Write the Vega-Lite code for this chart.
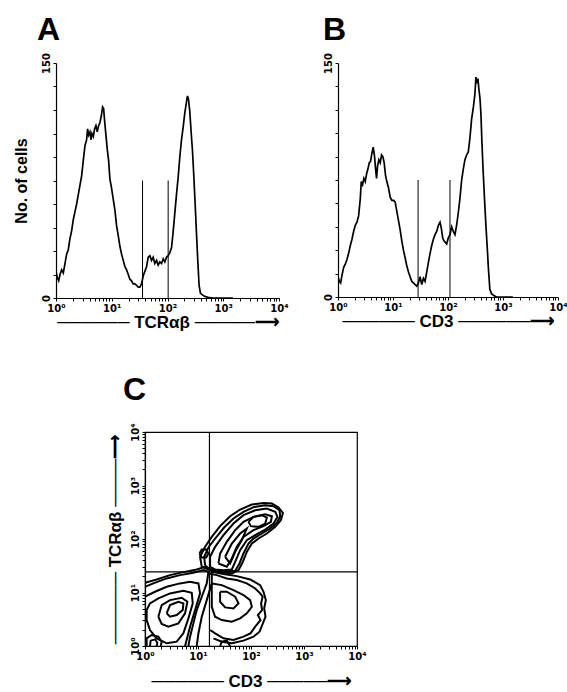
{
  "$schema": "https://vega.github.io/schema/vega-lite/v6.json",
  "background": "white",
  "padding": {"left": 13, "top": 13, "right": 0, "bottom": 0},
  "bounds": "flush",
  "spacing": 369,
  "config": {
    "axis": {"grid": false, "domainColor": "black", "tickColor": "black", "labelColor": "black", "titleColor": "black", "labelFont": "DejaVu Sans", "labelFontWeight": "bold", "labelFontSize": 10, "titleFont": "Liberation Sans", "titleFontWeight": "bold", "titleFontSize": 17, "tickSize": 3, "tickCount": 200, "domainWidth": 1.2, "labelOverlap": false, "labelFlush": false},
    "title": {"font": "Liberation Sans", "fontWeight": "bold", "fontSize": 32, "color": "black", "anchor": "start", "frame": "group", "baseline": "alphabetic"}
  },
  "datasets": {
    "hA": [
      {"x":0.000,"n":17},{"x":0.024,"n":13},{"x":0.048,"n":11},{"x":0.072,"n":15},{"x":0.101,"n":18},{"x":0.131,"n":16},{"x":0.161,"n":22},{"x":0.191,"n":28},{"x":0.221,"n":31},{"x":0.251,"n":38},{"x":0.281,"n":43},{"x":0.310,"n":50},{"x":0.340,"n":55},{"x":0.370,"n":60},{"x":0.400,"n":66},{"x":0.430,"n":72},{"x":0.460,"n":78},{"x":0.490,"n":88},{"x":0.519,"n":97},{"x":0.549,"n":101},{"x":0.567,"n":108},{"x":0.585,"n":104},{"x":0.609,"n":106},{"x":0.627,"n":101},{"x":0.645,"n":105},{"x":0.669,"n":103},{"x":0.693,"n":108},{"x":0.716,"n":110},{"x":0.740,"n":106},{"x":0.764,"n":110},{"x":0.788,"n":112},{"x":0.812,"n":116},{"x":0.836,"n":122},{"x":0.854,"n":121},{"x":0.872,"n":113},{"x":0.896,"n":104},{"x":0.919,"n":95},{"x":0.943,"n":88},{"x":0.967,"n":76},{"x":0.997,"n":70},{"x":1.027,"n":63},{"x":1.057,"n":56},{"x":1.087,"n":46},{"x":1.116,"n":40},{"x":1.146,"n":33},{"x":1.176,"n":28},{"x":1.206,"n":24},{"x":1.236,"n":20},{"x":1.266,"n":18},{"x":1.296,"n":15},{"x":1.325,"n":12},{"x":1.355,"n":11},{"x":1.385,"n":9},{"x":1.415,"n":9},{"x":1.445,"n":8},{"x":1.475,"n":7},{"x":1.504,"n":7},{"x":1.534,"n":9},{"x":1.564,"n":14},{"x":1.594,"n":17},{"x":1.624,"n":20},{"x":1.654,"n":26},{"x":1.684,"n":27},{"x":1.713,"n":24},{"x":1.743,"n":26},{"x":1.773,"n":22},{"x":1.803,"n":24},{"x":1.833,"n":21},{"x":1.863,"n":23},{"x":1.893,"n":22},{"x":1.922,"n":25},{"x":1.952,"n":23},{"x":1.982,"n":26},{"x":2.012,"n":27},{"x":2.042,"n":29},{"x":2.072,"n":32},{"x":2.101,"n":42},{"x":2.131,"n":54},{"x":2.161,"n":66},{"x":2.191,"n":77},{"x":2.221,"n":90},{"x":2.251,"n":101},{"x":2.281,"n":109},{"x":2.310,"n":118},{"x":2.340,"n":125},{"x":2.358,"n":129},{"x":2.376,"n":127},{"x":2.400,"n":119},{"x":2.424,"n":106},{"x":2.448,"n":94},{"x":2.472,"n":78},{"x":2.496,"n":60},{"x":2.519,"n":42},{"x":2.543,"n":24},{"x":2.567,"n":8},{"x":2.591,"n":3},{"x":2.627,"n":2},{"x":2.669,"n":1},{"x":2.728,"n":0.5},{"x":2.818,"n":0},{"x":3.176,"n":0}
    ],
    "hB": [
      {"x":0.000,"n":13},{"x":0.024,"n":10},{"x":0.048,"n":9},{"x":0.073,"n":14},{"x":0.103,"n":19},{"x":0.133,"n":21},{"x":0.163,"n":24},{"x":0.193,"n":28},{"x":0.224,"n":33},{"x":0.254,"n":37},{"x":0.284,"n":42},{"x":0.314,"n":46},{"x":0.344,"n":48},{"x":0.375,"n":52},{"x":0.405,"n":63},{"x":0.423,"n":74},{"x":0.447,"n":72},{"x":0.471,"n":76},{"x":0.495,"n":74},{"x":0.520,"n":79},{"x":0.544,"n":82},{"x":0.568,"n":86},{"x":0.592,"n":87},{"x":0.616,"n":92},{"x":0.640,"n":96},{"x":0.665,"n":90},{"x":0.683,"n":82},{"x":0.701,"n":76},{"x":0.719,"n":84},{"x":0.743,"n":88},{"x":0.767,"n":86},{"x":0.792,"n":91},{"x":0.816,"n":90},{"x":0.840,"n":86},{"x":0.864,"n":78},{"x":0.888,"n":74},{"x":0.918,"n":70},{"x":0.949,"n":64},{"x":0.979,"n":62},{"x":1.009,"n":62},{"x":1.039,"n":61},{"x":1.069,"n":55},{"x":1.100,"n":49},{"x":1.130,"n":43},{"x":1.160,"n":36},{"x":1.190,"n":30},{"x":1.221,"n":25},{"x":1.251,"n":20},{"x":1.281,"n":16},{"x":1.311,"n":13},{"x":1.341,"n":10},{"x":1.372,"n":9},{"x":1.402,"n":8},{"x":1.432,"n":7},{"x":1.462,"n":9},{"x":1.492,"n":13},{"x":1.523,"n":8},{"x":1.553,"n":12},{"x":1.583,"n":10},{"x":1.613,"n":16},{"x":1.643,"n":22},{"x":1.674,"n":28},{"x":1.704,"n":33},{"x":1.734,"n":37},{"x":1.764,"n":40},{"x":1.795,"n":42},{"x":1.825,"n":46},{"x":1.855,"n":48},{"x":1.879,"n":44},{"x":1.903,"n":38},{"x":1.927,"n":36},{"x":1.952,"n":35},{"x":1.976,"n":34},{"x":2.006,"n":38},{"x":2.036,"n":40},{"x":2.066,"n":45},{"x":2.097,"n":42},{"x":2.127,"n":40},{"x":2.157,"n":46},{"x":2.187,"n":54},{"x":2.217,"n":63},{"x":2.248,"n":75},{"x":2.278,"n":82},{"x":2.308,"n":88},{"x":2.338,"n":91},{"x":2.369,"n":93},{"x":2.399,"n":102},{"x":2.429,"n":114},{"x":2.459,"n":121},{"x":2.489,"n":130},{"x":2.508,"n":141},{"x":2.526,"n":137},{"x":2.544,"n":140},{"x":2.562,"n":133},{"x":2.580,"n":128},{"x":2.598,"n":118},{"x":2.616,"n":100},{"x":2.640,"n":80},{"x":2.665,"n":62},{"x":2.689,"n":46},{"x":2.713,"n":32},{"x":2.737,"n":17},{"x":2.761,"n":5},{"x":2.792,"n":2},{"x":2.834,"n":1},{"x":2.882,"n":0},{"x":3.18,"n":0}
    ],
    "gA": [{"x":1.552,"n0":0,"n1":75},{"x":2.012,"n0":0,"n1":75}],
    "gB": [{"x":1.456,"n0":0,"n1":75},{"x":2.036,"n0":0,"n1":75}],
    "cont": [
      {"c":"ur1","i":0,"x":1.071,"y":1.481},{"c":"ur1","i":1,"x":1.039,"y":1.667},{"c":"ur1","i":2,"x":1.134,"y":1.854},{"c":"ur1","i":3,"x":1.260,"y":2.040},{"c":"ur1","i":4,"x":1.417,"y":2.240},{"c":"ur1","i":5,"x":1.606,"y":2.426},{"c":"ur1","i":6,"x":1.795,"y":2.551},{"c":"ur1","i":7,"x":2.016,"y":2.644},{"c":"ur1","i":8,"x":2.236,"y":2.675},{"c":"ur1","i":9,"x":2.394,"y":2.663},{"c":"ur1","i":10,"x":2.520,"y":2.588},{"c":"ur1","i":11,"x":2.602,"y":2.488},{"c":"ur1","i":12,"x":2.564,"y":2.351},{"c":"ur1","i":13,"x":2.457,"y":2.227},{"c":"ur1","i":14,"x":2.299,"y":2.103},{"c":"ur1","i":15,"x":2.142,"y":2.009},{"c":"ur1","i":16,"x":2.016,"y":1.916},{"c":"ur1","i":17,"x":1.921,"y":1.760},{"c":"ur1","i":18,"x":1.846,"y":1.574},{"c":"ur1","i":19,"x":1.764,"y":1.418},{"c":"ur1","i":20,"x":1.638,"y":1.356},{"c":"ur1","i":21,"x":1.417,"y":1.381},{"c":"ur1","i":22,"x":1.228,"y":1.418},{"c":"ur1","i":23,"x":1.071,"y":1.481},
      {"c":"ur1b","i":0,"x":1.134,"y":1.512},{"c":"ur1b","i":1,"x":1.115,"y":1.667},{"c":"ur1b","i":2,"x":1.197,"y":1.841},{"c":"ur1b","i":3,"x":1.323,"y":2.009},{"c":"ur1b","i":4,"x":1.493,"y":2.215},{"c":"ur1b","i":5,"x":1.669,"y":2.383},{"c":"ur1b","i":6,"x":1.858,"y":2.507},{"c":"ur1b","i":7,"x":2.060,"y":2.600},{"c":"ur1b","i":8,"x":2.268,"y":2.631},{"c":"ur1b","i":9,"x":2.425,"y":2.613},{"c":"ur1b","i":10,"x":2.539,"y":2.538},{"c":"ur1b","i":11,"x":2.551,"y":2.414},{"c":"ur1b","i":12,"x":2.488,"y":2.302},{"c":"ur1b","i":13,"x":2.362,"y":2.196},{"c":"ur1b","i":14,"x":2.205,"y":2.103},{"c":"ur1b","i":15,"x":2.047,"y":2.009},{"c":"ur1b","i":16,"x":1.953,"y":1.916},{"c":"ur1b","i":17,"x":1.858,"y":1.729},{"c":"ur1b","i":18,"x":1.783,"y":1.543},{"c":"ur1b","i":19,"x":1.701,"y":1.406},{"c":"ur1b","i":20,"x":1.543,"y":1.387},{"c":"ur1b","i":21,"x":1.354,"y":1.406},{"c":"ur1b","i":22,"x":1.197,"y":1.450},{"c":"ur1b","i":23,"x":1.134,"y":1.512},
      {"c":"ur2","i":0,"x":1.228,"y":1.481},{"c":"ur2","i":1,"x":1.228,"y":1.667},{"c":"ur2","i":2,"x":1.323,"y":1.854},{"c":"ur2","i":3,"x":1.480,"y":2.072},{"c":"ur2","i":4,"x":1.669,"y":2.289},{"c":"ur2","i":5,"x":1.858,"y":2.445},{"c":"ur2","i":6,"x":2.079,"y":2.538},{"c":"ur2","i":7,"x":2.299,"y":2.569},{"c":"ur2","i":8,"x":2.457,"y":2.507},{"c":"ur2","i":9,"x":2.501,"y":2.414},{"c":"ur2","i":10,"x":2.425,"y":2.289},{"c":"ur2","i":11,"x":2.268,"y":2.177},{"c":"ur2","i":12,"x":2.079,"y":2.072},{"c":"ur2","i":13,"x":1.921,"y":1.978},{"c":"ur2","i":14,"x":1.795,"y":1.792},{"c":"ur2","i":15,"x":1.701,"y":1.574},{"c":"ur2","i":16,"x":1.638,"y":1.431},{"c":"ur2","i":17,"x":1.480,"y":1.418},{"c":"ur2","i":18,"x":1.323,"y":1.431},{"c":"ur2","i":19,"x":1.228,"y":1.481},
      {"c":"ur3","i":0,"x":1.386,"y":1.543},{"c":"ur3","i":1,"x":1.417,"y":1.729},{"c":"ur3","i":2,"x":1.543,"y":1.947},{"c":"ur3","i":3,"x":1.701,"y":2.165},{"c":"ur3","i":4,"x":1.858,"y":2.320},{"c":"ur3","i":5,"x":2.047,"y":2.414},{"c":"ur3","i":6,"x":2.268,"y":2.463},{"c":"ur3","i":7,"x":2.394,"y":2.426},{"c":"ur3","i":8,"x":2.375,"y":2.320},{"c":"ur3","i":9,"x":2.236,"y":2.240},{"c":"ur3","i":10,"x":2.047,"y":2.165},{"c":"ur3","i":11,"x":1.858,"y":2.040},{"c":"ur3","i":12,"x":1.732,"y":1.854},{"c":"ur3","i":13,"x":1.638,"y":1.636},{"c":"ur3","i":14,"x":1.543,"y":1.481},{"c":"ur3","i":15,"x":1.386,"y":1.543},
      {"c":"ur4","i":0,"x":1.953,"y":2.320},{"c":"ur4","i":1,"x":2.047,"y":2.414},{"c":"ur4","i":2,"x":2.205,"y":2.445},{"c":"ur4","i":3,"x":2.299,"y":2.401},{"c":"ur4","i":4,"x":2.268,"y":2.289},{"c":"ur4","i":5,"x":2.142,"y":2.227},{"c":"ur4","i":6,"x":1.997,"y":2.240},{"c":"ur4","i":7,"x":1.953,"y":2.320},
      {"c":"ur5","i":0,"x":1.512,"y":1.667},{"c":"ur5","i":1,"x":1.638,"y":1.916},{"c":"ur5","i":2,"x":1.795,"y":2.103},{"c":"ur5","i":3,"x":1.921,"y":2.196},{"c":"ur5","i":4,"x":1.827,"y":1.978},{"c":"ur5","i":5,"x":1.701,"y":1.760},{"c":"ur5","i":6,"x":1.606,"y":1.543},{"c":"ur5","i":7,"x":1.512,"y":1.667},
      {"c":"dot","i":0,"x":1.027,"y":1.729},{"c":"dot","i":1,"x":1.071,"y":1.804},{"c":"dot","i":2,"x":1.153,"y":1.804},{"c":"dot","i":3,"x":1.197,"y":1.729},{"c":"dot","i":4,"x":1.153,"y":1.655},{"c":"dot","i":5,"x":1.071,"y":1.655},{"c":"dot","i":6,"x":1.027,"y":1.729},
      {"c":"ll0","i":0,"x":0,"y":1.182},{"c":"ll0","i":1,"x":0.220,"y":1.244},{"c":"ll0","i":2,"x":0.472,"y":1.325},{"c":"ll0","i":3,"x":0.724,"y":1.381},{"c":"ll0","i":4,"x":0.976,"y":1.431},{"c":"ll0","i":5,"x":1.134,"y":1.481},{"c":"ll0","i":6,"x":1.260,"y":1.418},{"c":"ll0","i":7,"x":1.260,"y":1.170},{"c":"ll0","i":8,"x":1.165,"y":0.858},{"c":"ll0","i":9,"x":1.071,"y":0.547},{"c":"ll0","i":10,"x":1.008,"y":0.236},{"c":"ll0","i":11,"x":0.976,"y":0},
      {"c":"ll1","i":0,"x":0,"y":1.107},{"c":"ll1","i":1,"x":0.157,"y":1.170},{"c":"ll1","i":2,"x":0.409,"y":1.263},{"c":"ll1","i":3,"x":0.661,"y":1.325},{"c":"ll1","i":4,"x":0.913,"y":1.369},{"c":"ll1","i":5,"x":1.102,"y":1.418},{"c":"ll1","i":6,"x":1.197,"y":1.387},{"c":"ll1","i":7,"x":1.165,"y":1.170},{"c":"ll1","i":8,"x":1.071,"y":0.921},{"c":"ll1","i":9,"x":0.976,"y":0.672},{"c":"ll1","i":10,"x":0.913,"y":0.423},{"c":"ll1","i":11,"x":0.850,"y":0.174},{"c":"ll1","i":12,"x":0.819,"y":0},
      {"c":"ll2","i":0,"x":0,"y":0.921},{"c":"ll2","i":1,"x":0.189,"y":1.014},{"c":"ll2","i":2,"x":0.409,"y":1.107},{"c":"ll2","i":3,"x":0.661,"y":1.170},{"c":"ll2","i":4,"x":0.850,"y":1.201},{"c":"ll2","i":5,"x":1.008,"y":1.170},{"c":"ll2","i":6,"x":1.039,"y":0.983},{"c":"ll2","i":7,"x":0.945,"y":0.672},{"c":"ll2","i":8,"x":0.850,"y":0.361},{"c":"ll2","i":9,"x":0.756,"y":0},
      {"c":"ll3","i":0,"x":0.031,"y":0.672},{"c":"ll3","i":1,"x":0.094,"y":0.796},{"c":"ll3","i":2,"x":0.252,"y":0.890},{"c":"ll3","i":3,"x":0.472,"y":0.983},{"c":"ll3","i":4,"x":0.724,"y":1.033},{"c":"ll3","i":5,"x":0.882,"y":0.995},{"c":"ll3","i":6,"x":0.901,"y":0.796},{"c":"ll3","i":7,"x":0.819,"y":0.516},{"c":"ll3","i":8,"x":0.724,"y":0.236},{"c":"ll3","i":9,"x":0.598,"y":0.081},{"c":"ll3","i":10,"x":0.409,"y":0.050},{"c":"ll3","i":11,"x":0.220,"y":0.143},{"c":"ll3","i":12,"x":0.094,"y":0.299},{"c":"ll3","i":13,"x":0.031,"y":0.485},{"c":"ll3","i":14,"x":0.031,"y":0.672},
      {"c":"ll4","i":0,"x":0.252,"y":0.547},{"c":"ll4","i":1,"x":0.315,"y":0.765},{"c":"ll4","i":2,"x":0.472,"y":0.858},{"c":"ll4","i":3,"x":0.693,"y":0.902},{"c":"ll4","i":4,"x":0.800,"y":0.827},{"c":"ll4","i":5,"x":0.756,"y":0.610},{"c":"ll4","i":6,"x":0.630,"y":0.423},{"c":"ll4","i":7,"x":0.441,"y":0.361},{"c":"ll4","i":8,"x":0.315,"y":0.411},{"c":"ll4","i":9,"x":0.252,"y":0.547},
      {"c":"ll5","i":0,"x":0.409,"y":0.610},{"c":"ll5","i":1,"x":0.472,"y":0.765},{"c":"ll5","i":2,"x":0.630,"y":0.827},{"c":"ll5","i":3,"x":0.724,"y":0.796},{"c":"ll5","i":4,"x":0.712,"y":0.672},{"c":"ll5","i":5,"x":0.598,"y":0.579},{"c":"ll5","i":6,"x":0.472,"y":0.547},{"c":"ll5","i":7,"x":0.409,"y":0.610},
      {"c":"lm0","i":0,"x":1.260,"y":1.387},{"c":"lm0","i":1,"x":1.480,"y":1.344},{"c":"lm0","i":2,"x":1.732,"y":1.306},{"c":"lm0","i":3,"x":1.984,"y":1.244},{"c":"lm0","i":4,"x":2.173,"y":1.138},{"c":"lm0","i":5,"x":2.236,"y":1.014},{"c":"lm0","i":6,"x":2.280,"y":0.858},{"c":"lm0","i":7,"x":2.249,"y":0.703},{"c":"lm0","i":8,"x":2.274,"y":0.547},{"c":"lm0","i":9,"x":2.224,"y":0.423},{"c":"lm0","i":10,"x":2.161,"y":0.267},{"c":"lm0","i":11,"x":2.047,"y":0.174},{"c":"lm0","i":12,"x":1.858,"y":0.100},{"c":"lm0","i":13,"x":1.638,"y":0.050},{"c":"lm0","i":14,"x":1.449,"y":0.081},{"c":"lm0","i":15,"x":1.291,"y":0.143},
      {"c":"lm1","i":0,"x":1.197,"y":1.356},{"c":"lm1","i":1,"x":1.354,"y":1.325},{"c":"lm1","i":2,"x":1.543,"y":1.263},{"c":"lm1","i":3,"x":1.732,"y":1.232},{"c":"lm1","i":4,"x":1.921,"y":1.170},{"c":"lm1","i":5,"x":2.079,"y":1.076},{"c":"lm1","i":6,"x":2.173,"y":0.983},{"c":"lm1","i":7,"x":2.220,"y":0.921},{"c":"lm1","i":8,"x":2.190,"y":0.796},{"c":"lm1","i":9,"x":2.210,"y":0.672},{"c":"lm1","i":10,"x":2.130,"y":0.579},{"c":"lm1","i":11,"x":2.180,"y":0.485},{"c":"lm1","i":12,"x":2.080,"y":0.361},{"c":"lm1","i":13,"x":1.990,"y":0.236},{"c":"lm1","i":14,"x":1.858,"y":0.174},{"c":"lm1","i":15,"x":1.669,"y":0.112},{"c":"lm1","i":16,"x":1.480,"y":0.143},{"c":"lm1","i":17,"x":1.323,"y":0.236},{"c":"lm1","i":18,"x":1.228,"y":0.299},
      {"c":"lm2","i":0,"x":1.260,"y":1.170},{"c":"lm2","i":1,"x":1.449,"y":1.138},{"c":"lm2","i":2,"x":1.669,"y":1.045},{"c":"lm2","i":3,"x":1.858,"y":0.952},{"c":"lm2","i":4,"x":1.984,"y":0.858},{"c":"lm2","i":5,"x":2.016,"y":0.734},{"c":"lm2","i":6,"x":1.921,"y":0.610},{"c":"lm2","i":7,"x":1.795,"y":0.516},{"c":"lm2","i":8,"x":1.638,"y":0.454},{"c":"lm2","i":9,"x":1.449,"y":0.485},{"c":"lm2","i":10,"x":1.323,"y":0.547},{"c":"lm2","i":11,"x":1.260,"y":0.734},{"c":"lm2","i":12,"x":1.260,"y":1.170},
      {"c":"lm3","i":0,"x":1.417,"y":1.014},{"c":"lm3","i":1,"x":1.543,"y":1.014},{"c":"lm3","i":2,"x":1.701,"y":0.921},{"c":"lm3","i":3,"x":1.764,"y":0.796},{"c":"lm3","i":4,"x":1.669,"y":0.703},{"c":"lm3","i":5,"x":1.512,"y":0.722},{"c":"lm3","i":6,"x":1.417,"y":0.827},{"c":"lm3","i":7,"x":1.417,"y":1.014},
      {"c":"bl1","i":0,"x":0.031,"y":0},{"c":"bl1","i":1,"x":0.031,"y":0.143},{"c":"bl1","i":2,"x":0.126,"y":0.205},{"c":"bl1","i":3,"x":0.252,"y":0.174},{"c":"bl1","i":4,"x":0.315,"y":0.081},{"c":"bl1","i":5,"x":0.296,"y":0},
      {"c":"bl2","i":0,"x":0.094,"y":0},{"c":"bl2","i":1,"x":0.107,"y":0.100},{"c":"bl2","i":2,"x":0.189,"y":0.124},{"c":"bl2","i":3,"x":0.233,"y":0.062},{"c":"bl2","i":4,"x":0.220,"y":0},
      {"c":"bm1","i":0,"x":1.417,"y":0},{"c":"bm1","i":1,"x":1.449,"y":0.081},{"c":"bm1","i":2,"x":1.543,"y":0.100},{"c":"bm1","i":3,"x":1.606,"y":0}
    ],
    "qx": [{"x":1.216}],
    "qy": [{"y":1.387}]
  },
  "vconcat": [
    {
      "bounds": "flush",
      "spacing": 59,
      "hconcat": [
        {
          "width": 223, "height": 235,
          "view": {"stroke": null},
          "title": {"text": "A", "dx": -19, "offset": 6},
          "layer": [
            {
              "data": {"name": "hA"},
              "mark": {"type": "line", "color": "black", "strokeWidth": 1.7, "clip": true},
              "encoding": {
                "x": {"field": "x", "type": "quantitative", "scale": {"domain": [0, 4], "nice": false},
                  "axis": {"title": "────── TCRαβ ─────⟶", "tickCount": 200, "labelOverlap": false, "values": [0,0.301,0.477,0.602,0.699,0.778,0.845,0.903,0.954,1,1.301,1.477,1.602,1.699,1.778,1.845,1.903,1.954,2,2.301,2.477,2.602,2.699,2.778,2.845,2.903,2.954,3,3.301,3.477,3.602,3.699,3.778,3.845,3.903,3.954,4],
                    "labelExpr": "abs(datum.value - round(datum.value)) < 0.001 ? '10' + ['⁰','¹','²','³','⁴'][round(datum.value)] : ''", "titlePadding": 1}},
                "y": {"field": "n", "type": "quantitative", "scale": {"domain": [0, 150], "nice": false},
                  "axis": {"title": "No. of cells", "tickCount": 200, "labelOverlap": false, "labelFontSize": 10, "values": [0,15,30,45,60,75,90,105,120,135,150], "labelExpr": "datum.value == 0 || datum.value == 150 ? datum.label : ''", "labelAngle": -90, "labelAlign": "center", "labelBaseline": "bottom", "titlePadding": 12, "titleFontSize": 16}}
              }
            },
            {
              "data": {"name": "gA"},
              "mark": {"type": "rule", "color": "black", "strokeWidth": 1},
              "encoding": {"x": {"field": "x", "type": "quantitative"}, "y": {"field": "n0", "type": "quantitative"}, "y2": {"field": "n1"}}
            }
          ]
        },
        {
          "width": 220, "height": 234,
          "view": {"stroke": null},
          "title": {"text": "B", "dx": -15, "offset": 6},
          "layer": [
            {
              "data": {"name": "hB"},
              "mark": {"type": "line", "color": "black", "strokeWidth": 1.7, "clip": true},
              "encoding": {
                "x": {"field": "x", "type": "quantitative", "scale": {"domain": [0, 4], "nice": false},
                  "axis": {"title": "────── CD3 ──────⟶", "tickCount": 200, "labelOverlap": false, "values": [0,0.301,0.477,0.602,0.699,0.778,0.845,0.903,0.954,1,1.301,1.477,1.602,1.699,1.778,1.845,1.903,1.954,2,2.301,2.477,2.602,2.699,2.778,2.845,2.903,2.954,3,3.301,3.477,3.602,3.699,3.778,3.845,3.903,3.954,4],
                    "labelExpr": "abs(datum.value - round(datum.value)) < 0.001 ? '10' + ['⁰','¹','²','³','⁴'][round(datum.value)] : ''", "titlePadding": 1}},
                "y": {"field": "n", "type": "quantitative", "scale": {"domain": [0, 150], "nice": false},
                  "axis": {"title": null, "tickCount": 200, "labelOverlap": false, "labelFontSize": 10, "values": [0,15,30,45,60,75,90,105,120,135,150], "labelExpr": "datum.value == 0 || datum.value == 150 ? datum.label : ''", "labelAngle": -90, "labelAlign": "center", "labelBaseline": "bottom"}}
              }
            },
            {
              "data": {"name": "gB"},
              "mark": {"type": "rule", "color": "black", "strokeWidth": 1},
              "encoding": {"x": {"field": "x", "type": "quantitative"}, "y": {"field": "n0", "type": "quantitative"}, "y2": {"field": "n1"}}
            }
          ]
        }
      ]
    },
    {
      "bounds": "flush",
      "spacing": 0,
      "hconcat": [
        {
          "width": 89, "height": 10,
          "view": {"stroke": null},
          "data": {"values": [{}]},
          "mark": {"type": "point", "opacity": 0},
          "encoding": {}
        },
        {
          "width": 212, "height": 214,
          "view": {"stroke": "black", "strokeWidth": 1.2},
          "title": {"text": "C", "dx": -22, "offset": 16},
          "layer": [
            {
              "data": {"name": "cont"},
              "mark": {"type": "line", "color": "black", "strokeWidth": 2, "clip": true},
              "encoding": {
                "x": {"field": "x", "type": "quantitative", "scale": {"domain": [0, 4], "nice": false},
                  "axis": {"title": "──────  CD3  ─────⟶", "tickCount": 200, "labelOverlap": false, "values": [0,0.301,0.477,0.602,0.699,0.778,0.845,0.903,0.954,1,1.301,1.477,1.602,1.699,1.778,1.845,1.903,1.954,2,2.301,2.477,2.602,2.699,2.778,2.845,2.903,2.954,3,3.301,3.477,3.602,3.699,3.778,3.845,3.903,3.954,4],
                    "labelExpr": "abs(datum.value - round(datum.value)) < 0.001 ? '10' + ['⁰','¹','²','³','⁴'][round(datum.value)] : ''", "titlePadding": 12}},
                "y": {"field": "y", "type": "quantitative", "scale": {"domain": [0, 4], "nice": false},
                  "axis": {"title": "──────  TCRαβ  ────⟶", "tickCount": 200, "labelOverlap": false, "values": [0,0.301,0.477,0.602,0.699,0.778,0.845,0.903,0.954,1,1.301,1.477,1.602,1.699,1.778,1.845,1.903,1.954,2,2.301,2.477,2.602,2.699,2.778,2.845,2.903,2.954,3,3.301,3.477,3.602,3.699,3.778,3.845,3.903,3.954,4],
                    "labelExpr": "abs(datum.value - round(datum.value)) < 0.001 ? '10' + ['⁰','¹','²','³','⁴'][round(datum.value)] : ''", "labelAngle": -90, "labelAlign": "center", "labelBaseline": "bottom", "titlePadding": 6}},
                "detail": {"field": "c"},
                "order": {"field": "i", "type": "quantitative"}
              }
            },
            {
              "data": {"name": "qx"},
              "mark": {"type": "rule", "color": "black", "strokeWidth": 1.2},
              "encoding": {"x": {"field": "x", "type": "quantitative"}}
            },
            {
              "data": {"name": "qy"},
              "mark": {"type": "rule", "color": "black", "strokeWidth": 1.2},
              "encoding": {"y": {"field": "y", "type": "quantitative"}}
            }
          ]
        }
      ]
    }
  ]
}
